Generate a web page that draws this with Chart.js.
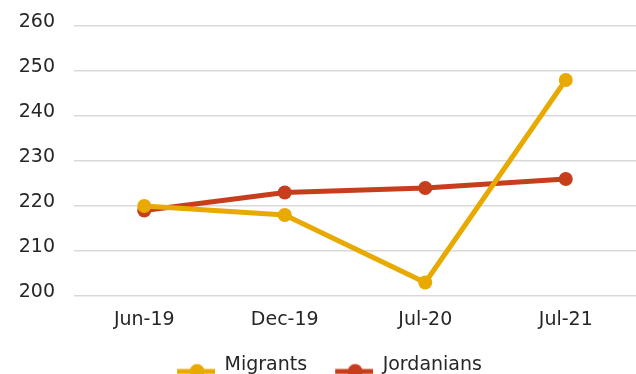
<!DOCTYPE html>
<html><head><meta charset="utf-8">
<script src="https://cdn.jsdelivr.net/npm/chart.js@4/dist/chart.umd.min.js"></script>
<style>
html,body{margin:0;padding:0;background:#fff;overflow:hidden;width:636px;height:374px;}
#wrap{width:636px;height:385px;position:relative;}
</style></head>
<body><div id="wrap"><canvas id="c"></canvas></div>
<script>
const categories = ['Jun-19','Dec-19','Jul-20','Jul-21'];
const migrants = [220, 218, 203, 248];
const jordanians = [219, 223, 224, 226];
const seriesNames = ['Migrants','Jordanians'];
const colors = ['#E8A900','#C73E1D'];

function legendIcon(color){
  const cv = document.createElement('canvas');
  cv.width = 61; cv.height = 30;
  const x = cv.getContext('2d');
  x.strokeStyle = color; x.lineWidth = 5;
  x.beginPath(); x.moveTo(23,21); x.lineTo(61,21); x.stroke();
  x.fillStyle = color; x.beginPath(); x.arc(43,21,7.5,0,Math.PI*2); x.fill();
  return cv;
}
const icons = colors.map(legendIcon);
const FONT = "'DejaVu Sans', sans-serif";
const TXT = '#262626';

new Chart(document.getElementById('c'), {
  type: 'line',
  data: {
    labels: categories,
    datasets: [
      {label: seriesNames[0], data: migrants, borderColor: colors[0], backgroundColor: colors[0], borderWidth: 5, pointRadius: 7, pointBorderWidth: 0, pointHoverRadius: 7, tension: 0},
      {label: seriesNames[1], data: jordanians, borderColor: colors[1], backgroundColor: colors[1], borderWidth: 5, pointRadius: 7, pointBorderWidth: 0, pointHoverRadius: 7, tension: 0}
    ]
  },
  options: {
    responsive: true, maintainAspectRatio: false, animation: false,
    layout: {autoPadding: false, padding: {top: 26, right: 0, left: 0, bottom: 0}},
    plugins: {
      tooltip: {enabled: false},
      legend: {
        position: 'bottom',
        labels: {
          font: {family: FONT, size: 19}, color: TXT,
          usePointStyle: true, pointStyleWidth: 61, padding: 5,
          generateLabels(chart){
            return chart.data.datasets.map((d,i)=>({
              text: d.label, pointStyle: icons[i], fillStyle: colors[i], strokeStyle: colors[i],
              lineWidth: 0, hidden: false, datasetIndex: i, fontColor: TXT
            }));
          }
        }
      }
    },
    scales: {
      x: {
        offset: true,
        afterFit(s){ s.height = 55; s.paddingLeft = 0; s.paddingRight = 0; },
        grid: {display: false, drawTicks: false},
        border: {display: false},
        ticks: {font: {family: FONT, size: 19}, color: TXT, padding: 13}
      },
      y: {
        min: 200, max: 260,
        afterFit(s){ s.width = 74; s.paddingTop = 0; s.paddingBottom = 0; },
        grid: {color: '#d9d9d9', lineWidth: 1.5, drawTicks: false},
        border: {display: false},
        ticks: {stepSize: 10, font: {family: FONT, size: 19}, color: TXT, padding: 19, labelOffset: -4}
      }
    }
  }
});
</script></body></html>
